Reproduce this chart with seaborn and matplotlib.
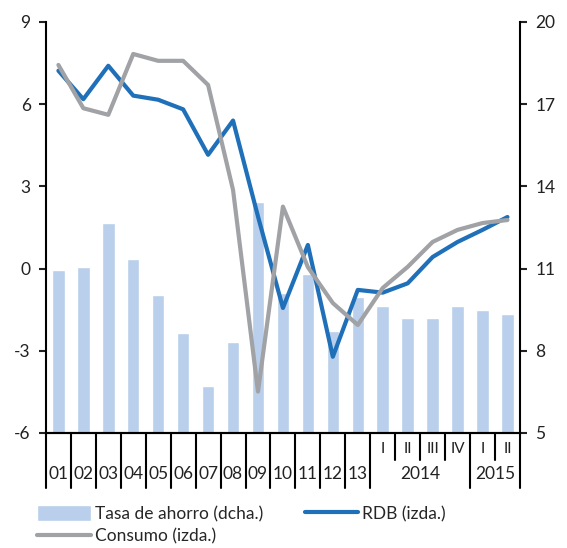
import numpy as np
import pandas as pd
import matplotlib
matplotlib.use("Agg")
import matplotlib.pyplot as plt
import seaborn as sns

# data
periodos = ['01', '02', '03', '04', '05', '06', '07', '08', '09', '10', '11', '12', '13',
            '2014 I', '2014 II', '2014 III', '2014 IV', '2015 I', '2015 II']
tasa_ahorro = [10.95, 11.05, 12.66, 11.35, 10.04, 8.66, 6.72, 8.32, 13.42, 10.11, 10.79,
               8.72, 9.97, 9.63, 9.21, 9.21, 9.63, 9.49, 9.35]
rdb = [7.22, 6.18, 7.40, 6.31, 6.16, 5.81, 4.15, 5.40, 1.9, -1.44, 0.86, -3.22, -0.78,
       -0.88, -0.54, 0.42, 0.97, 1.41, 1.88]
consumo = [7.43, 5.85, 5.61, 7.83, 7.58, 7.58, 6.70, 2.87, -4.49, 2.26, 0.05, -1.26, -2.06,
           -0.71, 0.06, 0.97, 1.41, 1.66, 1.77]

anios = ['01', '02', '03', '04', '05', '06', '07', '08', '09', '10', '11', '12', '13']
trimestres = ['I', 'II', 'III', 'IV', 'I', 'II']
anios_trim = ['2014', '2015']

df = pd.DataFrame({'periodo': periodos, 'tasa': tasa_ahorro, 'rdb': rdb,
                   'consumo': consumo, 'pos': np.arange(len(periodos))})

sns.set_style("ticks")
plt.rcParams['font.family'] = ['Lato', 'DejaVu Sans']
plt.rcParams['axes.unicode_minus'] = False

c_bar = '#b9cfeb'
c_rdb = '#1f70b8'
c_con = '#a0a2a5'
c_txt = '#222222'

fig = plt.figure(figsize=(5.67, 5.48), dpi=100)
ax = fig.add_axes([0.081, 0.210, 0.836, 0.750])
ax2 = ax.twinx()

sns.barplot(data=df, x='periodo', y='tasa', order=periodos, color=c_bar,
            width=0.5, saturation=1, ax=ax2)
sns.lineplot(data=df, x='pos', y='rdb', color=c_rdb, lw=3, ax=ax)
sns.lineplot(data=df, x='pos', y='consumo', color=c_con, lw=3, ax=ax)

ax.set_zorder(ax2.get_zorder() + 1)
ax.patch.set_visible(False)

ax.set_xlim(-0.5, 18.5)
ax2.set_xlim(-0.5, 18.5)
ax.set_ylim(-6, 9)
ax2.set_ylim(5, 20)
ax.set_yticks([-6, -3, 0, 3, 6, 9])
ax2.set_yticks([5, 8, 11, 14, 17, 20])
ax.set_xticks([])
ax2.set_xticks([])
for a in (ax, ax2):
    a.set_xlabel('')
    a.set_ylabel('')
    a.spines['top'].set_visible(False)
    for s in ('left', 'right', 'bottom'):
        a.spines[s].set_linewidth(1.5)
        a.spines[s].set_color('black')
    a.tick_params(axis='y', length=5, width=1.5, labelsize=12.5, colors=c_txt, pad=6)
ax.spines['right'].set_visible(False)
ax2.spines['left'].set_visible(False)

# separators below the axis: long between years, short between quarters
tr = ax.get_xaxis_transform()
largos = [k - 0.5 for k in range(14)] + [16.5, 18.5]
cortos = [13.5, 14.5, 15.5, 17.5]
for xp in largos:
    ax.plot([xp, xp], [0, -0.134], transform=tr, color='black', lw=1.5, clip_on=False)
for xp in cortos:
    ax.plot([xp, xp], [0, -0.066], transform=tr, color='black', lw=1.5, clip_on=False)

for i, t in enumerate(anios):
    ax.text(i, -0.10, t, transform=tr, ha='center', va='center', fontsize=12.5,
            color=c_txt)
for i, t in enumerate(trimestres):
    ax.text(13 + i, -0.039, t, transform=tr, ha='center', va='center', fontsize=11,
            color=c_txt)
ax.text(14.5, -0.10, anios_trim[0], transform=tr, ha='center', va='center',
        fontsize=12.5, color=c_txt)
ax.text(17.5, -0.10, anios_trim[1], transform=tr, ha='center', va='center',
        fontsize=12.5, color=c_txt)

h_bar = ax2.patches[0]
h_rdb, h_con = ax.lines[0], ax.lines[1]
fig.legend([h_bar, h_con, h_rdb],
           ['Tasa de ahorro (dcha.)', 'Consumo (izda.)', 'RDB (izda.)'],
           loc='upper left', bbox_to_anchor=(0.066, 0.078), ncol=2, frameon=False,
           fontsize=12.5, handlelength=3.1, handleheight=1.0, columnspacing=2.4,
           labelspacing=0.35, handletextpad=0.2, borderpad=0, borderaxespad=0)

fig.savefig('out.png', dpi=100)
